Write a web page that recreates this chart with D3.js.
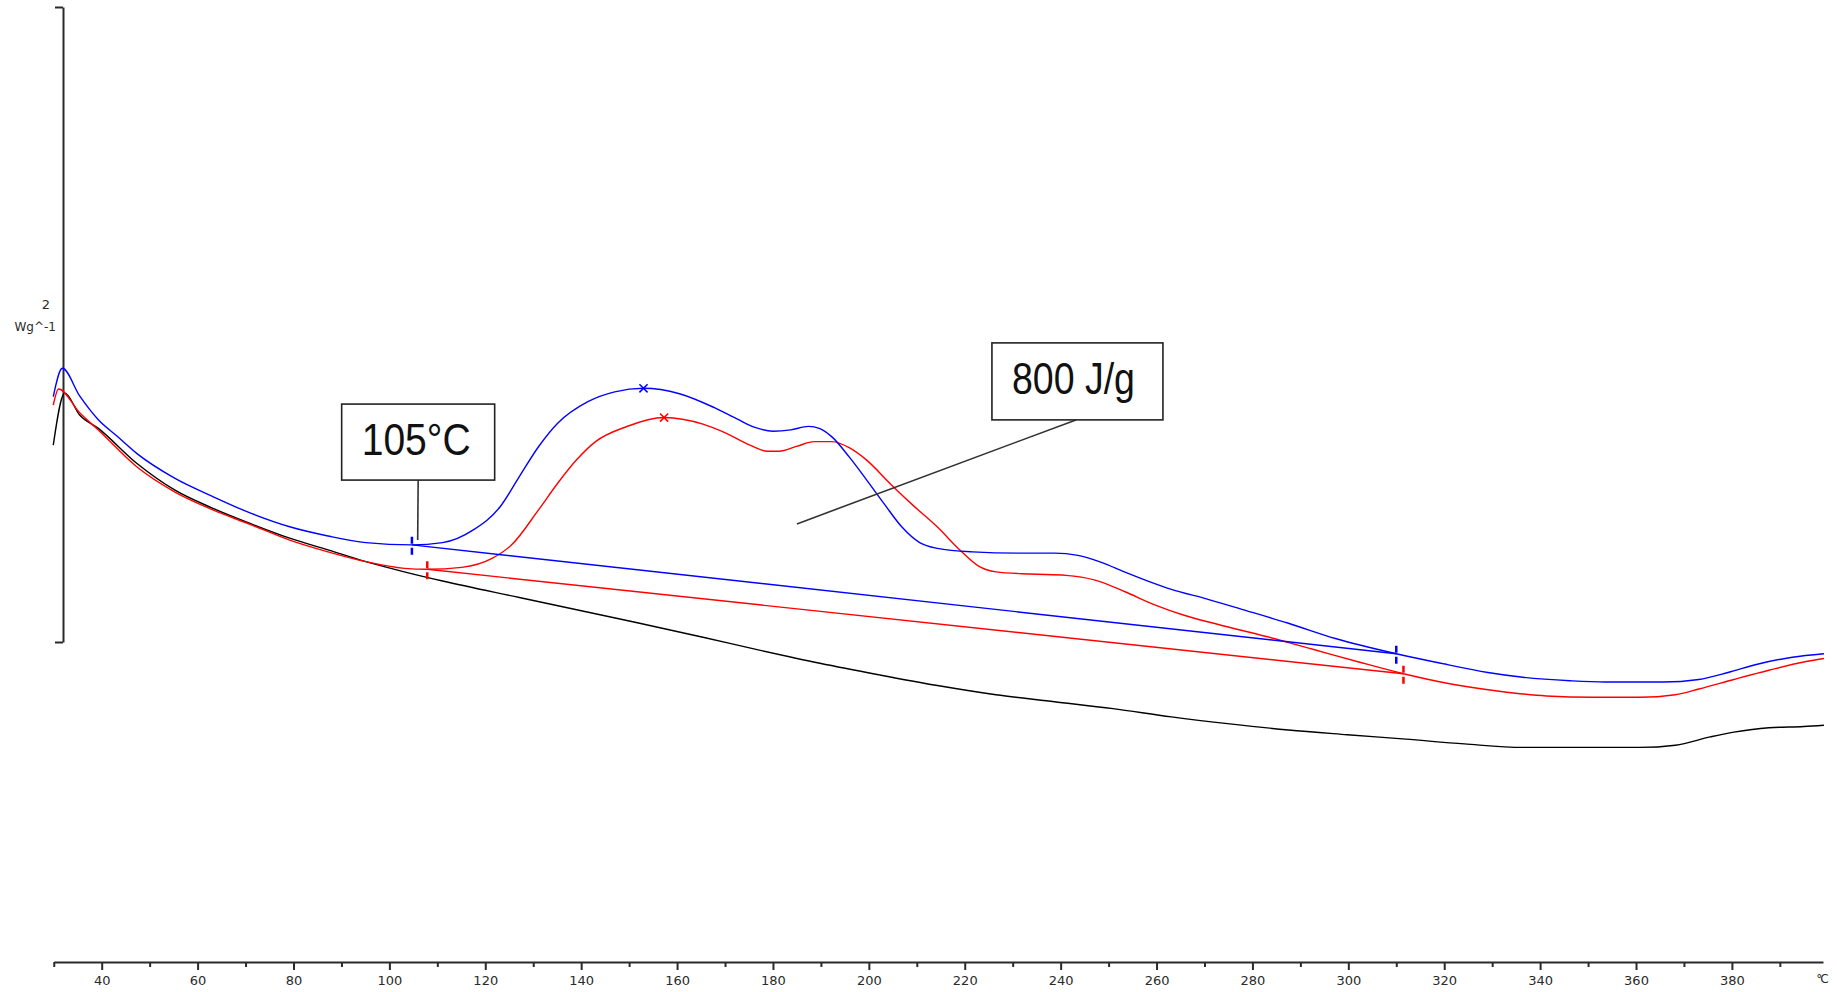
<!DOCTYPE html>
<html>
<head>
<meta charset="utf-8">
<script src="https://cdn.jsdelivr.net/npm/d3@7"></script>
<style>
	body { margin: 0; background: #fff; }
	svg { display: block; }
</style>
</head>
<body>
<svg id="chart" width="1837" height="992"></svg>
<script>
// temperatures in °C, heat flow in W/g (scale bar = 2 W/g)
const blueT = [29.9, 31.8, 35.4, 39.3, 43.3, 47.3, 55.2, 63.2, 71.2, 79.2, 87.2, 95.1, 104.7, 111.1, 117.5, 123.1, 127.1, 131.1, 135.1, 141.4, 147.0, 153.0, 160.5, 167.8, 172.7, 176.4, 180.0, 183.7, 187.4, 189.8, 192.3, 195.9, 199.6, 203.2, 206.9, 210.6, 214.3, 221.6, 231.4, 238.7, 243.6, 248.5, 253.3, 258.2, 263.1, 270.4, 277.8, 287.5, 297.3, 310.0, 319.3, 329.1, 336.4, 346.2, 353.5, 365.7, 373.1, 379.2, 385.3, 392.6, 399.2];
const blueV = [0.773, 0.862, 0.775, 0.700, 0.647, 0.594, 0.516, 0.458, 0.405, 0.363, 0.334, 0.313, 0.306, 0.313, 0.353, 0.426, 0.521, 0.615, 0.689, 0.757, 0.788, 0.799, 0.782, 0.738, 0.701, 0.675, 0.664, 0.668, 0.679, 0.672, 0.646, 0.583, 0.509, 0.435, 0.362, 0.313, 0.295, 0.284, 0.280, 0.280, 0.273, 0.251, 0.221, 0.192, 0.166, 0.136, 0.103, 0.059, 0.011, -0.037, -0.067, -0.096, -0.111, -0.122, -0.126, -0.126, -0.118, -0.096, -0.070, -0.048, -0.037];

const redT = [29.9, 31.0, 35.4, 39.3, 47.3, 55.2, 63.2, 71.2, 79.2, 87.2, 95.1, 103.1, 107.9, 115.1, 121.5, 125.5, 131.1, 135.1, 139.0, 143.0, 149.4, 157.3, 165.4, 170.3, 175.2, 178.8, 181.3, 184.9, 188.6, 192.3, 195.9, 199.6, 204.5, 209.4, 214.3, 219.1, 222.8, 226.5, 233.8, 241.1, 247.2, 253.3, 259.5, 265.6, 272.9, 282.7, 292.4, 302.2, 311.5, 321.7, 331.5, 341.3, 351.1, 360.8, 368.2, 373.1, 380.4, 387.7, 395.0, 399.2];
const redV = [0.746, 0.797, 0.722, 0.668, 0.552, 0.473, 0.416, 0.369, 0.321, 0.284, 0.253, 0.232, 0.229, 0.235, 0.264, 0.306, 0.416, 0.500, 0.573, 0.631, 0.678, 0.707, 0.686, 0.657, 0.620, 0.601, 0.601, 0.616, 0.631, 0.631, 0.612, 0.572, 0.498, 0.428, 0.362, 0.288, 0.240, 0.221, 0.214, 0.210, 0.195, 0.159, 0.118, 0.085, 0.055, 0.018, -0.022, -0.063, -0.100, -0.133, -0.155, -0.170, -0.174, -0.174, -0.166, -0.148, -0.118, -0.089, -0.063, -0.052];

const blackT = [29.9, 32.3, 35.4, 39.3, 47.3, 55.2, 63.2, 71.2, 79.2, 87.2, 95.1, 103.1, 111.1, 127.1, 151.0, 165.4, 177.6, 189.8, 202.0, 214.3, 226.5, 238.7, 250.9, 263.1, 275.3, 287.5, 299.8, 312.0, 324.2, 336.4, 348.6, 360.8, 368.2, 375.5, 380.4, 387.7, 395.0, 399.2];
const blackV = [0.620, 0.784, 0.715, 0.673, 0.563, 0.479, 0.421, 0.372, 0.327, 0.290, 0.253, 0.221, 0.192, 0.140, 0.063, 0.015, -0.027, -0.067, -0.103, -0.137, -0.166, -0.188, -0.210, -0.236, -0.258, -0.277, -0.292, -0.306, -0.321, -0.332, -0.332, -0.332, -0.325, -0.299, -0.284, -0.270, -0.266, -0.262];

// integration limits (start, end) and peak positions
const blueLimitT = [104.7, 310.0], blueLimitV = [0.306, -0.037];
const redLimitT = [107.9, 311.5], redLimitV = [0.229, -0.100];
const peakT = [153.0, 157.3], peakV = [0.799, 0.707];

const majorTicks = d3.range(40, 381, 20);
const minorTicks = d3.range(30, 391, 20);
const scaleBar = [0, 2];

const noteText = ["105°C", "800 J/g"];
const noteT = [105.9, 185.0], noteV = [0.321, 0.372];

const svg = d3.select("#chart");

const x = d3.scaleLinear().domain([30, 399]).range([53.75, 1823]);
const y = d3.scaleLinear().domain([0, 2]).range([642, 7]);

const ink = "#2a2a2a";

// x axis: minor ticks then major ticks with labels
const xg = svg.append("g").attr("transform", "translate(0,962)");
xg.call(d3.axisBottom(x).tickValues(minorTicks).tickSize(5).tickSizeOuter(0).tickFormat(""));
xg.append("g").call(d3.axisBottom(x).tickValues(majorTicks).tickSize(8).tickSizeOuter(0).tickPadding(6))
	.call(g => g.select(".domain").remove());
xg.selectAll(".domain").attr("stroke", ink).attr("stroke-width", 2);
xg.selectAll(".tick line").attr("stroke", ink).attr("stroke-width", 2);
xg.selectAll(".tick text")
	.attr("fill", ink)
	.style("font-family", "DejaVu Sans, sans-serif")
	.style("font-size", "13px");
xg.append("text")
	.attr("x", x(398.7)).attr("y", 21)
	.attr("text-anchor", "middle")
	.attr("fill", ink)
	.style("font-family", "DejaVu Sans, sans-serif")
	.style("font-size", "12px")
	.style("letter-spacing", "-2px")
	.text("°C");

// y scale bar
const yg = svg.append("g").attr("transform", "translate(63,0)");
yg.call(d3.axisLeft(y).tickValues(scaleBar).tickSize(8).tickSizeOuter(0).tickFormat(""));
yg.selectAll(".domain, .tick line").attr("stroke", ink).attr("stroke-width", 2);
svg.append("text")
	.attr("x", 46).attr("y", 309)
	.attr("text-anchor", "middle")
	.attr("fill", ink)
	.style("font-family", "DejaVu Sans, sans-serif")
	.style("font-size", "13px")
	.text("2");
svg.append("text")
	.attr("x", 56).attr("y", 331)
	.attr("text-anchor", "end")
	.attr("fill", ink)
	.style("font-family", "DejaVu Sans, sans-serif")
	.style("font-size", "12px")
	.text("Wg^-1");

const line = d3.line()
	.x(d => x(d[0]))
	.y(d => y(d[1]))
	.curve(d3.curveMonotoneX);

const series = [
	{T: blackT, V: blackV, color: "#000000"},
	{T: redT, V: redV, color: "#ff0000", limT: redLimitT, limV: redLimitV},
	{T: blueT, V: blueV, color: "#0000ff", limT: blueLimitT, limV: blueLimitV}
];

series.forEach((s, i) => {
	const pts = s.T.map((t, j) => [t, s.V[j]]);
	// baseline first so the curve sits on top
	if (s.limT) {
		svg.append("line")
			.attr("x1", x(s.limT[0])).attr("y1", y(s.limV[0]))
			.attr("x2", x(s.limT[1])).attr("y2", y(s.limV[1]))
			.attr("stroke", s.color)
			.attr("stroke-width", 1.4);
	}
	svg.append("path")
		.datum(pts)
		.attr("d", line)
		.attr("fill", "none")
		.attr("stroke", s.color)
		.attr("stroke-width", 1.4);
	if (s.limT) {
		// limit markers
		s.limT.forEach((t, j) => {
			svg.append("line")
				.attr("x1", x(t)).attr("x2", x(t))
				.attr("y1", y(s.limV[j]) - 8).attr("y2", y(s.limV[j]) + 11)
				.attr("stroke", s.color)
				.attr("stroke-width", 2.5)
				.attr("stroke-dasharray", "7,4");
		});
	}
});

// peak markers
const peakColors = ["#0000ff", "#ff0000"];
peakT.forEach((t, i) => {
	svg.append("path")
		.attr("d", d3.symbol(d3.symbolX, 45)())
		.attr("transform", `translate(${x(t)},${y(peakV[i])})`)
		.attr("fill", "none")
		.attr("stroke", peakColors[i])
		.attr("stroke-width", 1.5);
});

// annotation boxes: offsets of box and leader start from the tip
const noteLayout = [
	{bx: -76, by: -136, w: 153, h: 76, lx: 0.5, ly: -60, tw: 109},
	{bx: 195, by: -181, w: 171, h: 77, lx: 279, ly: -104, tw: 123}
];
noteText.forEach((txt, i) => {
	const tx = x(noteT[i]), ty = y(noteV[i]), L = noteLayout[i];
	svg.append("line")
		.attr("x1", tx + L.lx).attr("y1", ty + L.ly)
		.attr("x2", tx).attr("y2", ty)
		.attr("stroke", "#333")
		.attr("stroke-width", 1.6);
	svg.append("rect")
		.attr("x", tx + L.bx).attr("y", ty + L.by)
		.attr("width", L.w).attr("height", L.h)
		.attr("fill", "#fff")
		.attr("stroke", "#222")
		.attr("stroke-width", 1.6);
	svg.append("text")
		.attr("x", tx + L.bx + 20).attr("y", ty + L.by + 51)
		.attr("textLength", L.tw)
		.attr("lengthAdjust", "spacingAndGlyphs")
		.attr("fill", "#111")
		.style("font-family", "Liberation Sans Narrow, Liberation Sans, Arial, sans-serif")
		.style("font-size", "44px")
		.text(txt);
});
</script>
</body>
</html>
